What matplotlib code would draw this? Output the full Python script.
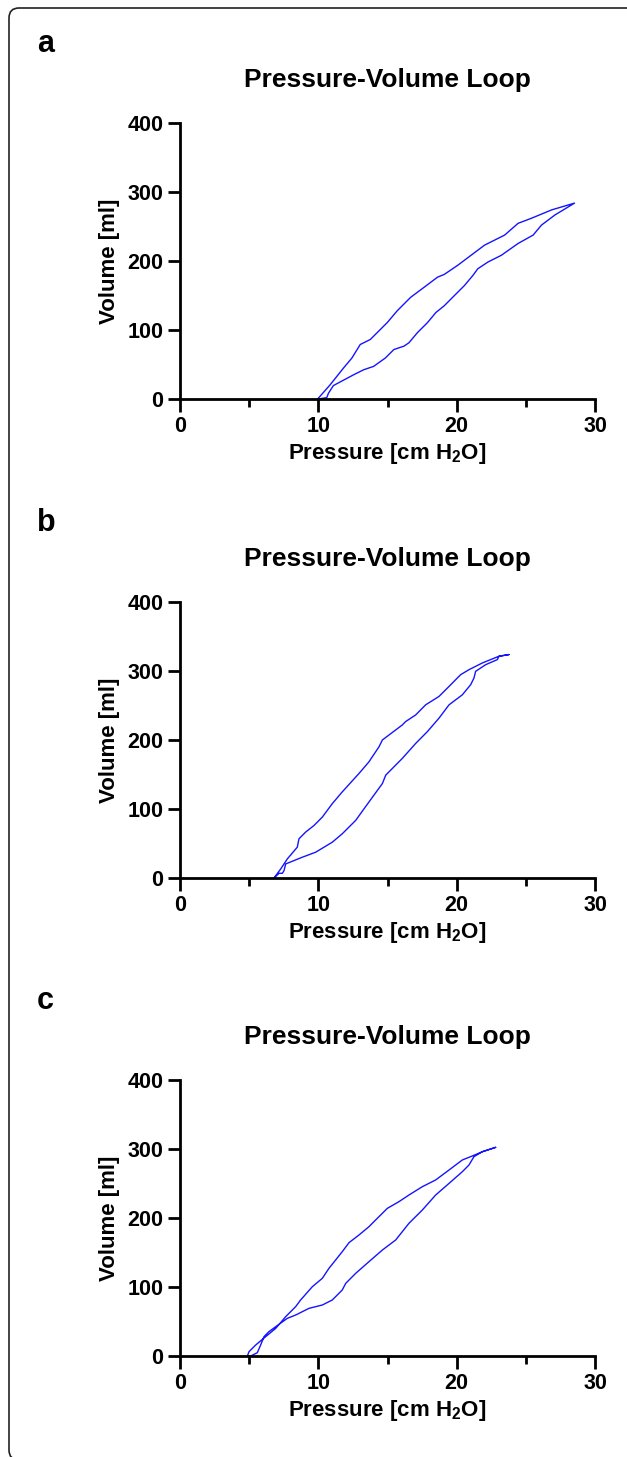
import matplotlib
matplotlib.use("Agg")
import matplotlib.pyplot as plt
from matplotlib.patches import FancyBboxPatch
from matplotlib.ticker import MultipleLocator

plt.rcParams['font.family'] = ['Liberation Sans', 'DejaVu Sans']
plt.rcParams['font.weight'] = 'bold'
plt.rcParams['mathtext.fontset'] = 'custom'
plt.rcParams['mathtext.rm'] = 'Liberation Sans:bold'
plt.rcParams['mathtext.it'] = 'Liberation Sans:bold'
plt.rcParams['mathtext.bf'] = 'Liberation Sans:bold'

# panel a: pressure [cm H2O] / volume [ml], upper then lower branch
pressure_a = [9.95, 10.85, 11.82, 12.43, 13.03, 13.76, 14.98, 15.70, 16.67, 17.65,
              18.62, 19.10, 20.07, 21.04, 22.01, 23.47, 24.44, 25.41, 26.87, 28.52,
              27.11, 26.14, 25.53, 24.44, 23.23, 22.26, 21.53, 21.17, 20.56, 19.83,
              19.10, 18.50, 17.89, 17.16, 16.55, 16.19, 15.46, 14.85, 14.00, 13.28,
              12.55, 11.09, 10.73, 10.61, 10.00]
volume_a = [0, 20.5, 44.9, 59.5, 79, 86.3, 110.7, 127.8, 147.3, 162,
            176.6, 180.5, 193.7, 208.3, 222.9, 237.6, 254.6, 262, 274.1, 283.9,
            266.8, 252.2, 237.6, 225.4, 208.3, 198.5, 188.8, 179, 164.4, 149.8,
            135.1, 125.4, 110.7, 96.1, 81.5, 76.6, 71.7, 59.5, 47.3, 42.4,
            35.1, 19.5, 8.3, 2, 0]

# panel b
pressure_b = [6.80, 6.92, 7.28, 7.76, 8.48, 8.60, 9.08, 9.69, 10.29, 11.01,
              11.73, 12.94, 13.66, 14.39, 14.63, 15.11, 16.07, 16.31, 17.04, 17.76,
              18.72, 19.45, 20.29, 20.89, 21.86, 23.06, 23.78,
              23.06, 22.94, 22.10, 21.37, 21.25, 21.01, 20.41, 19.45, 18.72, 17.88,
              17.04, 16.07, 15.23, 14.87, 14.63, 13.66, 12.70, 11.73, 11.01, 9.81,
              8.84, 7.64, 7.52, 7.40, 7.16, 6.80]
volume_b = [0, 3.4, 13.1, 27.7, 44.7, 56.8, 66.5, 76.2, 88.3, 107.8,
            124.8, 151.5, 168.4, 190.3, 200, 207.3, 221.8, 226.7, 236.4, 251,
            263.1, 277.7, 294.7, 301.9, 311.7, 321.4, 323.8,
            321.4, 316.5, 309.2, 299.5, 289.8, 280.1, 265.5, 251, 231.6, 212.1,
            195.1, 173.3, 156.3, 149, 136.9, 110.2, 83.5, 64.1, 51.9, 37.4,
            30.1, 20.4, 10.7, 6.8, 6.8, 0]

# panel c
pressure_c = [4.87, 4.99, 5.47, 6.19, 6.92, 7.64, 8.36, 8.72, 9.57, 10.29,
              10.77, 11.25, 11.73, 12.22, 12.94, 13.66, 14.14, 14.99, 15.83, 16.55,
              17.52, 18.48, 19.45, 20.41, 21.13, 21.86, 22.82,
              21.86, 21.25, 20.89, 20.41, 19.45, 18.48, 17.52, 16.55, 15.59, 14.63,
              13.66, 12.70, 11.98, 11.73, 11.01, 10.29, 9.33, 8.36, 7.76, 6.92,
              6.43, 6.07, 5.83, 5.59, 5.11, 4.87]
volume_c = [0, 6.3, 15.9, 28, 40.1, 57, 71.5, 81.2, 100.5, 112.6,
            127.1, 139.1, 151.2, 164.3, 175.4, 187.4, 197.1, 214, 223.7, 233.3,
            245.4, 255.1, 269.6, 284.1, 289.9, 296.1, 302.4,
            296.1, 288.9, 276.8, 267.1, 250.2, 233.3, 211.6, 192.3, 168.1, 153.6,
            136.7, 119.8, 105.3, 95.7, 81.2, 73.9, 69.1, 59.4, 54.6, 42.5,
            35.3, 28, 15.9, 4.8, 0, 0]

panels = [("a", pressure_a, volume_a), ("b", pressure_b, volume_b), ("c", pressure_c, volume_c)]

W, H = 627, 1457
fig = plt.figure(figsize=(W / 100, H / 100), dpi=100)

# rounded frame round the whole figure (right and bottom run off the image)
frame = FancyBboxPatch((0.09, -0.03), 7.0, (1460 - 8) / 100,
                       boxstyle="round,pad=0,rounding_size=0.1",
                       transform=fig.dpi_scale_trans, fill=False,
                       edgecolor="#222222", linewidth=1.2, figure=fig)
fig.patches.append(frame)

axes_top = [123, 602, 1080]
for (letter, pres, vol), top in zip(panels, axes_top):
    bottom = top + 276
    ax = fig.add_axes([180 / W, 1 - bottom / H, 415 / W, 276 / H])
    ax.plot(pres, vol, color="#1414ff", linewidth=1.0)

    ax.set_xlim(0, 30)
    ax.set_ylim(0, 400)
    ax.xaxis.set_major_locator(MultipleLocator(10))
    ax.xaxis.set_minor_locator(MultipleLocator(5))
    ax.yaxis.set_major_locator(MultipleLocator(100))

    for side in ["top", "right"]:
        ax.spines[side].set_visible(False)
    for side in ["left", "bottom"]:
        ax.spines[side].set_linewidth(2.0)
    ax.tick_params(which="major", length=9, width=2.0, labelsize=15.5, pad=3)
    ax.tick_params(which="minor", length=5.5, width=2.0)
    for lbl in ax.get_xticklabels() + ax.get_yticklabels():
        lbl.set_fontweight("bold")

    ax.set_xlabel(r"Pressure [cm H$_2$O]", fontsize=16, fontweight="bold", labelpad=3)
    ax.set_ylabel("Volume [ml]", fontsize=16, fontweight="bold", labelpad=5)
    ax.set_title("Pressure-Volume Loop", fontsize=19, fontweight="bold", pad=26)

    fig.text(37 / W, 1 - (top - 71) / H, letter, fontsize=22, fontweight="bold",
             va="baseline", ha="left")

fig.savefig("out.png", dpi=100)
